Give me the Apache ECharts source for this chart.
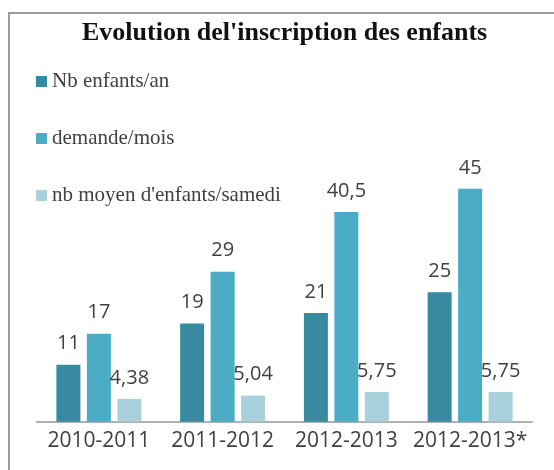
<!DOCTYPE html>
<html>
<head>
<meta charset="utf-8">
<script src="https://cdn.jsdelivr.net/npm/echarts@6/dist/echarts.min.js"></script>
<style>html,body{margin:0;padding:0;background:#fff;}#c{width:554px;height:470px;}</style>
</head>
<body>
<div id="c"></div>
<script>
const categories = ['2010-2011', '2011-2012', '2012-2013', '2012-2013*'];
const seriesNames = ['Nb enfants/an', 'demande/mois', "nb moyen d'enfants/samedi"];
const nbEnfantsAn = [11, 19, 21, 25];
const demandeMois = [17, 29, 40.5, 45];
const nbMoyenSamedi = [4.38, 5.04, 5.75, 5.75];
const colors = ['#378a9f', '#4bacc6', '#a9d0dd'];

const chart = echarts.init(document.getElementById('c'));
const fmt = p => String(p.value).replace('.', ',');
function mk(name, data, color) {
  return {
    name: name, type: 'bar', data: data,
    barWidth: 24, barGap: '27%',
    itemStyle: { color: color },
    label: { show: true, position: 'top', distance: 11, formatter: fmt,
             fontFamily: 'Open Sans', fontSize: 20, color: '#404040' }
  };
}
chart.setOption({
  animation: false,
  backgroundColor: '#fff',
  title: {
    text: "Evolution del'inscription des enfants",
    left: 77, top: 15,
    textStyle: { fontFamily: 'Liberation Serif', fontWeight: 'bold', fontSize: 26, color: '#111' }
  },
  legend: {
    orient: 'vertical', left: 31, top: 66,
    itemWidth: 11, itemHeight: 11, itemGap: 36,
    icon: 'rect',
    data: seriesNames,
    textStyle: { fontFamily: 'Liberation Serif', fontSize: 21, color: '#404040' }
  },
  graphic: [{
    type: 'polyline', silent: true,
    shape: { points: [[9, 470], [9, 13], [560, 13]] },
    style: { stroke: '#9a9a9a', lineWidth: 2, fill: null }
  }],
  grid: { left: 37, right: 22, top: 162.95, bottom: 48.3 },
  xAxis: {
    type: 'category', data: categories,
    axisLine: { lineStyle: { color: '#b0b0b0', width: 2 } },
    axisTick: { show: false },
    axisLabel: { interval: 0, fontFamily: 'Open Sans', fontSize: 21, color: '#404040', margin: 9 }
  },
  yAxis: {
    type: 'value', min: 0, max: 50, show: false,
    splitLine: { show: false }
  },
  series: [
    mk(seriesNames[0], nbEnfantsAn, colors[0]),
    mk(seriesNames[1], demandeMois, colors[1]),
    mk(seriesNames[2], nbMoyenSamedi, colors[2])
  ]
});
</script>
</body>
</html>
